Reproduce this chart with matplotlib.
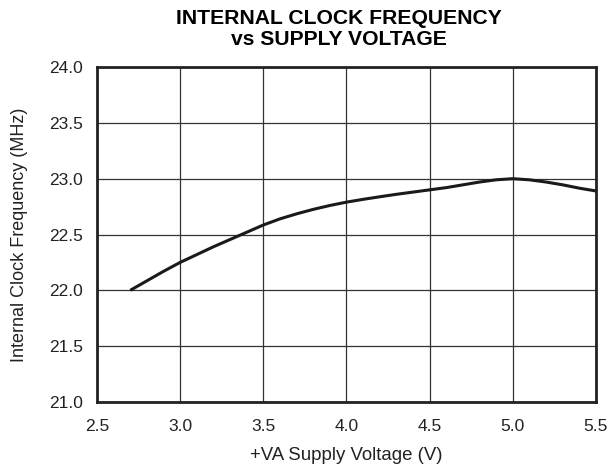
import matplotlib.pyplot as plt

plt.rcParams["font.family"] = ["Liberation Sans", "DejaVu Sans"]

# supply voltage (V) vs internal clock frequency (MHz)
voltage = [2.7, 2.8, 2.9, 3.0, 3.1, 3.2, 3.3, 3.4, 3.5, 3.6, 3.7, 3.8, 3.9, 4.0,
           4.1, 4.2, 4.3, 4.4, 4.5, 4.6, 4.7, 4.8, 4.9, 5.0, 5.1, 5.2, 5.3, 5.4, 5.5]
freq = [22.00, 22.085, 22.17, 22.25, 22.32, 22.39, 22.455, 22.52, 22.585, 22.64, 22.685,
        22.725, 22.76, 22.79, 22.815, 22.838, 22.86, 22.88, 22.90, 22.92, 22.945,
        22.97, 22.99, 23.00, 22.99, 22.97, 22.945, 22.915, 22.89]

x_ticks = [2.5, 3.0, 3.5, 4.0, 4.5, 5.0, 5.5]
y_ticks = [21.0, 21.5, 22.0, 22.5, 23.0, 23.5, 24.0]

fig = plt.figure(figsize=(6.1, 4.69), dpi=100)
ax = fig.add_axes([0.159, 0.143, 0.818, 0.714])

ax.plot(voltage, freq, color="#1a1a1a", linewidth=2.2, zorder=3,
        solid_joinstyle="round", solid_capstyle="butt")

ax.set_xlim(2.5, 5.5)
ax.set_ylim(21.0, 24.0)
ax.set_xticks(x_ticks)
ax.set_yticks(y_ticks)
ax.set_xticklabels([f"{v:.1f}" for v in x_ticks])
ax.set_yticklabels([f"{v:.1f}" for v in y_ticks])
ax.tick_params(length=0, labelsize=12.5, colors="#222222")
ax.tick_params(axis="x", pad=12)
ax.tick_params(axis="y", pad=10)
ax.grid(True, color="#333333", linewidth=0.9)
ax.set_axisbelow(True)
for s in ax.spines.values():
    s.set_linewidth(2.0)
    s.set_color("#222222")

ax.set_xlabel("+VA Supply Voltage (V)", fontsize=13.4, labelpad=10, color="#222222")
ax.set_ylabel("Internal Clock Frequency (MHz)", fontsize=13, labelpad=15, color="#222222")
ax.set_title("INTERNAL CLOCK FREQUENCY\nvs SUPPLY VOLTAGE", fontsize=15.2, x=0.484,
             fontweight="bold", linespacing=1.13, pad=16)

fig.savefig("out.png", dpi=100)
